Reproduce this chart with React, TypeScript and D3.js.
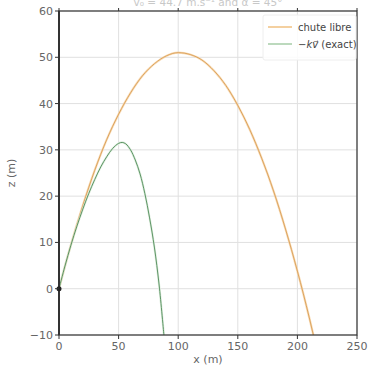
import React from "react";
import * as d3 from "d3";

const xTicks = [0, 50, 100, 150, 200, 250];
const zTicks = [-10, 0, 10, 20, 30, 40, 50, 60];

const freeX = [0, 10, 20, 30, 40, 50, 60, 70, 80, 90, 100, 110, 120, 130, 140, 150, 160, 170, 180, 190, 200, 210, 213.4];
const freeZ = [0, 9.5, 18.0, 25.6, 32.2, 37.7, 42.3, 46.0, 48.6, 50.3, 51.0, 50.6, 49.4, 47.1, 43.9, 39.6, 34.4, 28.2, 21.1, 12.9, 3.8, -6.3, -10];

const dragX = [0, 5, 10, 15, 20, 25, 30, 35, 40, 45, 50, 53, 56, 60, 64, 68, 72, 76, 80, 84, 88];
const dragZ = [0, 4.9, 9.4, 13.5, 17.2, 20.6, 23.6, 26.3, 28.5, 30.3, 31.4, 31.6, 31.3, 30.0, 27.8, 24.8, 20.6, 15.3, 9.0, 0.8, -10];

const W = 369, H = 371;
const L = 59, R = 357, T = 11, B = 335;

export default function App() {
  const x = d3.scaleLinear().domain([0, 250]).range([L, R]);
  const y = d3.scaleLinear().domain([-10, 60]).range([B, T]);
  const line = d3.line<[number, number]>().x(d => x(d[0])).y(d => y(d[1])).curve(d3.curveMonotoneX);
  const lineDrag = d3.line<[number, number]>().x(d => x(d[0])).y(d => y(d[1])).curve(d3.curveCatmullRom);
  const free: [number, number][] = freeX.map((v, i) => [v, freeZ[i]]);
  const drag: [number, number][] = dragX.map((v, i) => [v, dragZ[i]]);
  const font = "'DejaVu Sans', sans-serif";
  return (
    <svg width={W} height={H} style={{ position: "absolute", left: 0, top: 0, background: "#fff" }} fontFamily={font}>
      <defs>
        <clipPath id="pc"><rect x={L} y={T} width={R - L} height={B - T} /></clipPath>
      </defs>
      <text x={208} y={6} fontSize={10.5} fill="#c8c8c8" textAnchor="middle">v₀ = 44.7 m.s⁻¹ and α = 45°</text>
      {xTicks.map(t => (
        <line key={"gx" + t} x1={x(t)} x2={x(t)} y1={T} y2={B} stroke="#e0e0e0" strokeWidth={1} />
      ))}
      {zTicks.map(t => (
        <line key={"gy" + t} x1={L} x2={R} y1={y(t)} y2={y(t)} stroke="#e0e0e0" strokeWidth={1} />
      ))}
      <g clipPath="url(#pc)">
        <path d={line(free) || ""} fill="none" stroke="#f6d2a2" strokeWidth={2.2} opacity={0.8} />
        <path d={line(free) || ""} fill="none" stroke="#d4954a" strokeWidth={0.8} />
        <path d={lineDrag(drag) || ""} fill="none" stroke="#d6ead6" strokeWidth={2.2} opacity={0.8} />
        <path d={lineDrag(drag) || ""} fill="none" stroke="#4f8a58" strokeWidth={0.9} />
      </g>
      <rect x={L} y={T} width={R - L} height={B - T} fill="none" stroke="#333" strokeWidth={1.2} />
      <line x1={L} x2={L} y1={T} y2={B} stroke="#333" strokeWidth={2} />
      <circle cx={x(0)} cy={y(0)} r={2.5} fill="#222" />
      {xTicks.map(t => (
        <g key={"xt" + t}>
          <line x1={x(t)} x2={x(t)} y1={B} y2={B + 4} stroke="#333" />
          <line x1={x(t)} x2={x(t)} y1={T} y2={T - 3} stroke="#333" />
          <text x={x(t)} y={B + 15} fontSize={11} fill="#666" textAnchor="middle">{t}</text>
        </g>
      ))}
      {zTicks.map(t => (
        <g key={"yt" + t}>
          <line x1={L - 4} x2={L} y1={y(t)} y2={y(t)} stroke="#333" />
          <text x={L - 6} y={y(t) + 4} fontSize={11} fill="#666" textAnchor="end">{t < 0 ? "\u2212" + Math.abs(t) : t}</text>
        </g>
      ))}
      <text x={208} y={363} fontSize={11} fill="#666" textAnchor="middle">x (m)</text>
      <text transform={`translate(15,${(T + B) / 2}) rotate(-90)`} fontSize={11} fill="#666" textAnchor="middle">z (m)</text>
      <rect x={263} y={15} width={93} height={45} fill="#fff" fillOpacity={0.85} stroke="#eee" rx={2} />
      <line x1={268} x2={292} y1={27} y2={27} stroke="#f0c080" strokeWidth={1.5} />
      <text x={298} y={30.5} fontSize={10} fill="#444">chute libre</text>
      <line x1={268} x2={292} y1={44} y2={44} stroke="#8fbf90" strokeWidth={1.2} />
      <text x={298} y={47.5} fontSize={10} fill="#444">−<tspan fontStyle="italic">k</tspan><tspan fontStyle="italic">v⃗</tspan> (exact)</text>
    </svg>
  );
}
